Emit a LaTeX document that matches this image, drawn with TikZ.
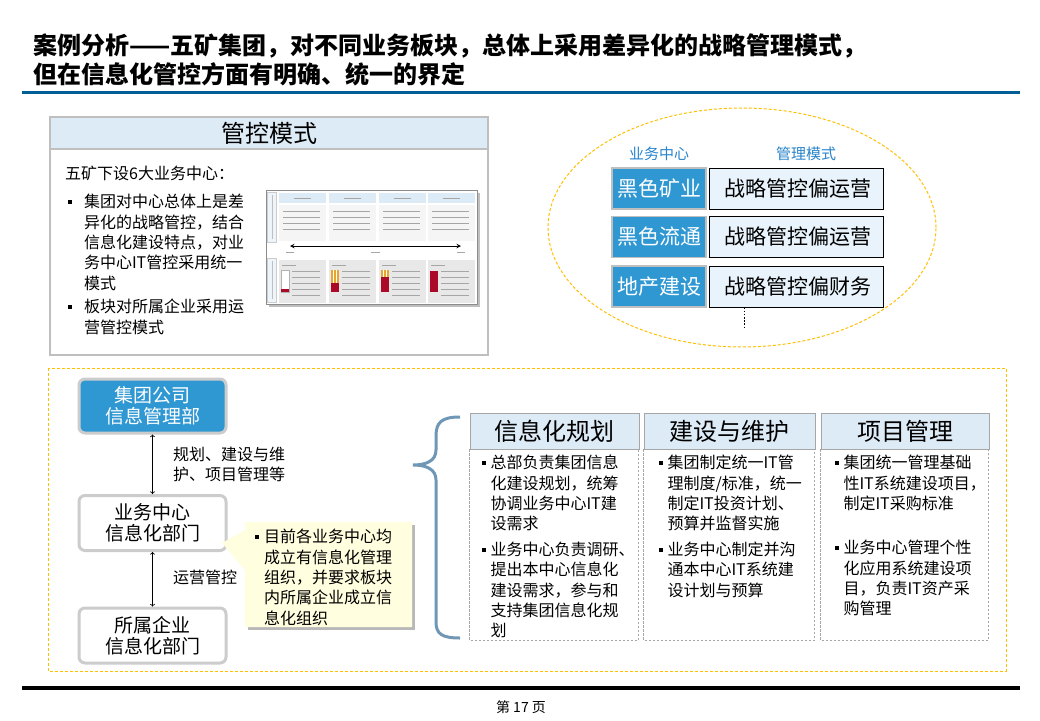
\documentclass[tikz,border=0pt]{standalone}
\usepackage{fontspec}
\setmainfont{Noto Sans CJK SC}
\usetikzlibrary{shapes,arrows,positioning}
\definecolor{TitleBlue}{RGB}{0,94,150}
\definecolor{HeadBlue}{RGB}{221,235,246}
\definecolor{CenterBlue}{RGB}{47,152,211}
\definecolor{ModeBlue}{RGB}{232,243,251}
\definecolor{LabelBlue}{RGB}{40,132,204}
\definecolor{DashYellow}{RGB}{255,192,0}
\definecolor{NoteYellow}{RGB}{255,254,222}
\definecolor{BraceBlue}{RGB}{112,152,182}
\definecolor{FrameGray}{RGB}{191,191,191}
\definecolor{ThumbRed}{RGB}{170,10,40}
\definecolor{ThumbOrange}{RGB}{232,165,45}
\newcommand{\setfs}[2]{\fontsize{#1}{#2}\selectfont}
\newcommand{\bul}{\rule[4pt]{3.8pt}{3.8pt}}

\begin{document}
\begin{tikzpicture}[x=1pt,y=-1pt]
				\tikzstyle{centerbox}=[draw=FrameGray, line width=1.2pt, fill=CenterBlue, text=white, minimum width=94pt, minimum height=41pt, inner sep=0pt, font=\setfs{21}{25}]
				\tikzstyle{modebox}=[draw=black, line width=0.9pt, fill=ModeBlue, minimum width=174pt, minimum height=41pt, inner sep=0pt, font=\setfs{21}{25}]
				\tikzstyle{unitbox}=[draw=FrameGray!80, line width=3pt, rounded corners=6pt, minimum width=147pt, minimum height=54pt, inner sep=0pt, align=center, font=\setfs{19}{21.5}]
				\tikzstyle{colhead}=[draw=black!35, line width=0.8pt, fill=HeadBlue, minimum height=36pt, inner sep=0pt, font=\setfs{24}{26}]
				\tikzstyle{bodytext}=[anchor=north west, inner sep=0pt, font=\setfs{16}{20.3}]
				\tikzstyle{ydash}=[DashYellow, line width=1pt, dash pattern=on 3pt off 2pt]
				\tikzstyle{thumbline}=[black!35, line width=0.6pt]
				\useasboundingbox (0,0) rectangle (1040,720);
				\fill[white] (0,0) rectangle (1040,720);
				\node [anchor=west, inner sep=0pt, font=\setfs{24}{28}\bfseries] (title1) at (33,46) {案例分析——五矿集团，对不同业务板块，总体上采用差异化的战略管理模式，};
				\node [anchor=west, inner sep=0pt, font=\setfs{24}{28}\bfseries] (title2) at (33,74) {但在信息化管控方面有明确、统一的界定};
				\fill[TitleBlue] (22,90.5) rectangle (1020,94);
				\fill[black] (22,686) rectangle (1020,690);
				\node [font=\setfs{14}{16}] (page) at (521,707) {第 17 页};
				\fill[HeadBlue] (50,117) rectangle (488,149);
				\draw[FrameGray, line width=1.2pt] (50,149) -- (488,149);
				\draw[FrameGray, line width=1.2pt] (50,117) rectangle (488,355);
				\node [font=\setfs{24}{26}] (ctrlhead) at (269,133) {管控模式};
				\node [anchor=west, inner sep=0pt, font=\setfs{16}{20}] (intro) at (65,173) {五矿下设6大业务中心：};
				\node [bodytext] (leftlist) at (68,193.5) {\begin{tabular}{@{}l@{\hspace{12pt}}l@{}}
					\bul & 集团对中心总体上是差\\
					& 异化的战略管控，结合\\
					& 信息化建设特点，对业\\
					& 务中心IT管控采用统一\\
					& 模式\\[3.5pt]
					\bul & 板块对所属企业采用运\\
					& 营管控模式
				\end{tabular}};
				\fill[black!25] (268.5,192.5) rectangle (479.5,306.5);
				\draw[black!45, fill=white] (266,190) rectangle (477,304);
				\draw[black!20, fill=HeadBlue!50] (267.5,192) rectangle (276,242);
				\draw[black!20, fill=HeadBlue!50] (267.5,258) rectangle (276,302);
				\foreach \cx in {279,329,379,428} {
					\fill[HeadBlue] (\cx,193) rectangle ++(47,10);
					\fill[black!4] (\cx,204.5) rectangle ++(47,36);
					\fill[black!9] (\cx,260) rectangle ++(47,43);
					\draw[thumbline] (\cx+15,198) -- ++(17,0);
					\draw[thumbline] (\cx+3,265) -- ++(14,0);
					\foreach \ty in {211,217,223,229}
						\draw[thumbline] (\cx+4,\ty) -- ++(37,0);
					\foreach \ty in {271,277,283,289,295}
						\draw[thumbline] (\cx+13,\ty) -- ++(28,0);
				}
				\draw[black!25, line width=0.4pt] (272,195) -- (272,239);
				\draw[black!25, line width=0.4pt] (272,261) -- (272,299);
				\draw[black!30, fill=white] (281,270) rectangle (289,292);
				\fill[ThumbRed] (281,289) rectangle (289,292);
				\fill[ThumbOrange] (331,270) rectangle (339,283);
				\fill[ThumbRed] (331,283) rectangle (339,292);
				\fill[ThumbOrange] (381,270) rectangle (389,277);
				\fill[ThumbRed] (381,277) rectangle (389,292);
				\fill[ThumbRed] (430,271) rectangle (438,292);
				\draw[white, line width=0.8pt] (333.7,270) -- (333.7,283) (336.4,270) -- (336.4,283);
				\draw[white, line width=0.8pt] (383.7,270) -- (383.7,277) (386.4,270) -- (386.4,277);
				\draw[black, line width=1pt, <->, >=stealth] (290,246) -- (461,246);
				\draw[thumbline] (286,252) -- ++(8,0) (371,252) -- ++(9,0) (457,252) -- ++(8,0);
				\draw[ydash] (742,227.5) ellipse [x radius=194pt, y radius=119.5pt];
				\node [text=LabelBlue, font=\setfs{15}{18}] (centerlbl) at (659,154) {业务中心};
				\node [text=LabelBlue, font=\setfs{15}{18}] (modelbl) at (806,154) {管理模式};
				\node [centerbox] (c1) at (659,188.5) {黑色矿业};
				\node [centerbox] (c2) at (659,237) {黑色流通};
				\node [centerbox] (c3) at (659,286.5) {地产建设};
				\node [modebox] (m1) at (796,188.5) {\hspace{4pt}战略管控偏运营};
				\node [modebox] (m2) at (796,237) {\hspace{4pt}战略管控偏运营};
				\node [modebox] (m3) at (796,286.5) {\hspace{4pt}战略管控偏财务};
				\draw[black, line width=1.6pt, dash pattern=on 1.6pt off 1.6pt] ([xshift=36pt]m3.south west) -- ++(0,20);
				\draw[ydash] (48,368) rectangle (1006,671);
				\node [unitbox, fill=CenterBlue, text=white] (hq) at (152.5,406) {集团公司\\信息管理部};
				\node [unitbox, fill=white, minimum height=55pt] (bc) at (152.5,523) {业务中心\\信息化部门};
				\node [unitbox, fill=white, minimum height=55pt] (sub) at (152.5,635.5) {所属企业\\信息化部门};
				\draw[<->, line width=0.8pt] (hq) -- (bc);
				\draw[<->, line width=0.8pt] (bc) -- (sub);
				\node [anchor=west, inner sep=0pt, align=left, font=\setfs{16}{20}] (lbl1) at (173,464) {规划、建设与维\\护、项目管理等};
				\node [anchor=west, inner sep=0pt, font=\setfs{16}{20}] (lbl2) at (173,577) {运营管控};
				\fill[black!28] (248,525) rectangle (415,630);
				\fill[NoteYellow] (245,522) -- (412,522) -- (412,627) -- (245,627) -- (245,570) -- (222,543) -- (245,530) -- cycle;
				\node [bodytext] (note) at (255,528.5) {\begin{tabular}{@{}l@{\hspace{5pt}}l@{}}
					\bul & 目前各业务中心均\\
					& 成立有信息化管理\\
					& 组织，并要求板块\\
					& 内所属企业成立信\\
					& 息化组织
				\end{tabular}};
				\draw[BraceBlue, line width=3pt] (460,417) .. controls (442,417) and (436,422) .. (436,436) -- (436,450) .. controls (436,461) and (426,465) .. (413,465) .. controls (426,465) and (436,469) .. (436,480) -- (436,622) .. controls (436,634) and (442,638) .. (460,638);
				\node [colhead, minimum width=169pt] (plan) at (554.5,431) {信息化规划};
				\node [colhead, minimum width=171pt] (build) at (729.5,431) {建设与维护};
				\node [colhead, minimum width=168pt] (proj) at (905,431) {项目管理};
				\draw[black!35, line width=0.8pt, dash pattern=on 2.5pt off 1.5pt] (plan.south west) rectangle ++(169,191);
				\draw[black!35, line width=0.8pt, dash pattern=on 2.5pt off 1.5pt] (build.south west) rectangle ++(171,191);
				\draw[black!35, line width=0.8pt, dash pattern=on 2.5pt off 1.5pt] (proj.south west) rectangle ++(168,191);
				\node [bodytext] (plantext) at (482,454.5) {\begin{tabular}{@{}l@{\hspace{4.5pt}}l@{}}
					\bul & 总部负责集团信息\\
					& 化建设规划，统筹\\
					& 协调业务中心IT建\\
					& 设需求\\[5.5pt]
					\bul & 业务中心负责调研、\\
					& 提出本中心信息化\\
					& 建设需求，参与和\\
					& 支持集团信息化规\\
					& 划
				\end{tabular}};
				\node [bodytext] (buildtext) at (659,454.5) {\begin{tabular}{@{}l@{\hspace{4.5pt}}l@{}}
					\bul & 集团制定统一IT管\\
					& 理制度/标准，统一\\
					& 制定IT投资计划、\\
					& 预算并监督实施\\[5.5pt]
					\bul & 业务中心制定并沟\\
					& 通本中心IT系统建\\
					& 设计划与预算
				\end{tabular}};
				\node [bodytext] (projtext) at (835,454.5) {\begin{tabular}{@{}l@{\hspace{4.5pt}}l@{}}
					\bul & 集团统一管理基础\\
					& 性IT系统建设项目，\\
					& 制定IT采购标准\\[24pt]
					\bul & 业务中心管理个性\\
					& 化应用系统建设项\\
					& 目，负责IT资产采\\
					& 购管理
				\end{tabular}};
			\end{tikzpicture}
\end{document}
